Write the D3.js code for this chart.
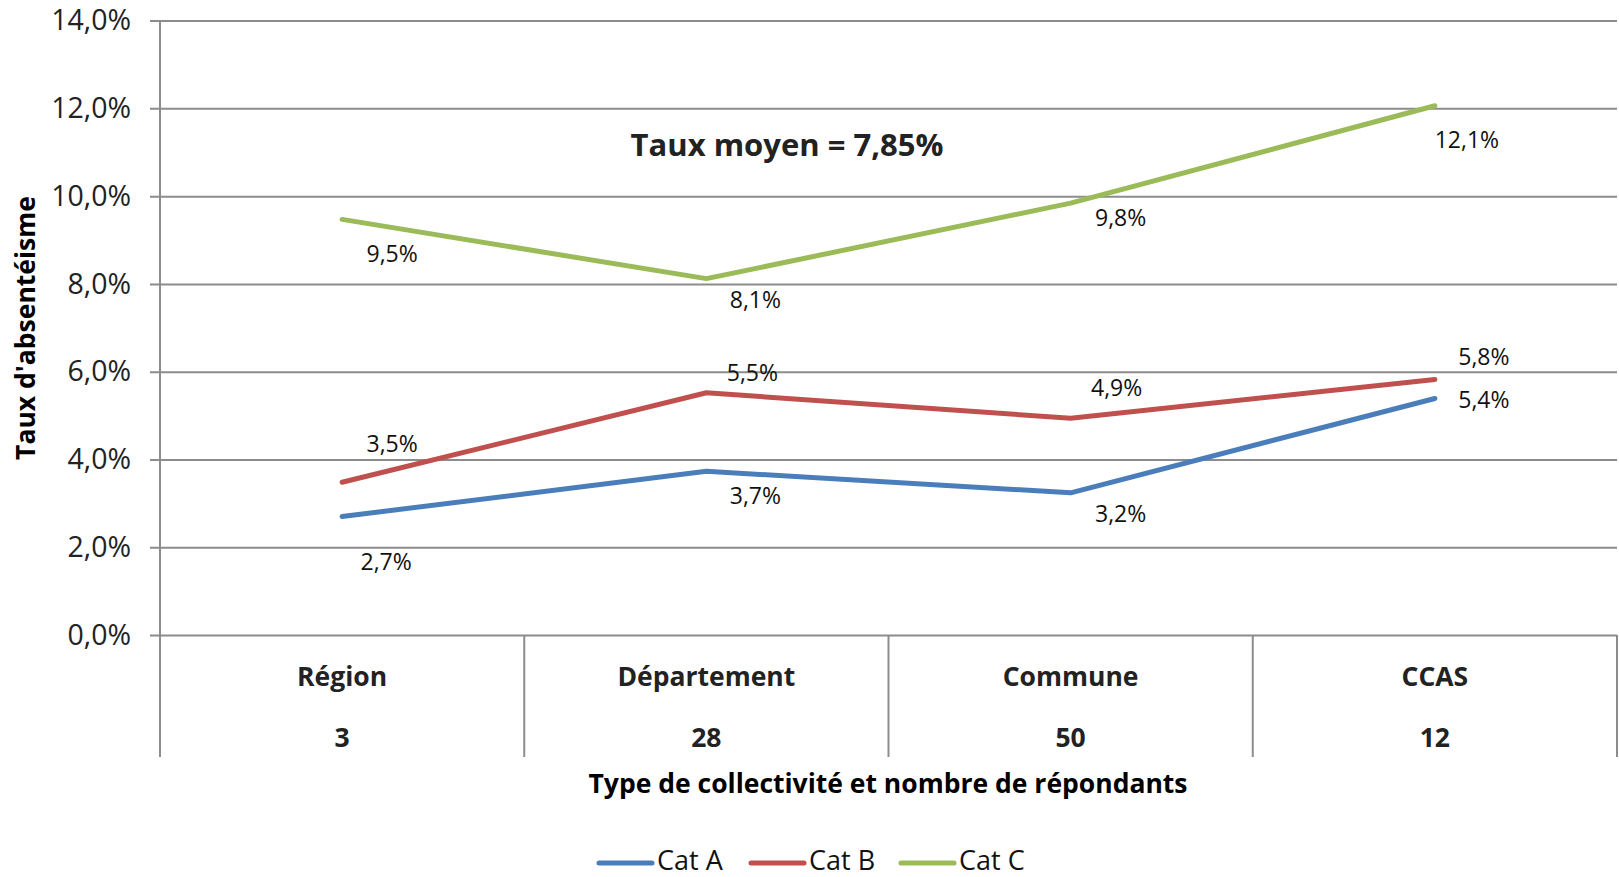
<!DOCTYPE html>
<html>
<head>
<meta charset="utf-8">
<script src="https://cdn.jsdelivr.net/npm/d3@7"></script>
<style>
  body { margin: 0; background: #fff; }
  text { font-family: "Open Sans", sans-serif; }
</style>
</head>
<body>
<svg id="chart" width="1619" height="877"></svg>
<script>
const width = 1619, height = 877;

// --- DATA ---
const categories = ["Région", "Département", "Commune", "CCAS"];
const respondents = ["3", "28", "50", "12"];
const seriesNames = ["Cat A", "Cat B", "Cat C"];
const catA = [2.70, 3.73, 3.24, 5.39];
const catB = [3.48, 5.52, 4.94, 5.82];
const catC = [9.47, 8.12, 9.84, 12.06];
const yTicks = [0, 2, 4, 6, 8, 10, 12, 14];
const colors = ["#4a7ebb", "#c0504d", "#9bbb59"];

// label nudges (px) relative to each point, as placed in the original
const labelNudge = [
  [[44, 47], [49, 27], [50, 23], [49, 3]],
  [[50, -36], [46, -18], [46, -28], [49, -21]],
  [[50, 36], [49, 23], [50, 17], [32, 36]]
];

const series = [catA, catB, catC];
const fmt = v => v.toFixed(1).replace(".", ",") + "%";

const plotLeft = 160, plotRight = 1617, plotTop = 20.6, plotBottom = 635, axisBottom = 757;

const svg = d3.select("#chart");

const x = d3.scaleBand().domain(categories).range([plotLeft, plotRight]);
const y = d3.scaleLinear().domain([0, 14]).range([plotBottom, plotTop]);
const cx = c => x(c) + x.bandwidth() / 2;

// --- GRID + Y AXIS ---
const yAxis = svg.append("g")
  .attr("transform", `translate(${plotLeft},0)`)
  .call(d3.axisLeft(y)
    .tickValues(yTicks)
    .tickSize(-(plotRight - plotLeft))
    .tickPadding(29)
    .tickFormat(d => d.toFixed(1).replace(".", ",") + "%"));
yAxis.select(".domain").remove();
yAxis.selectAll(".tick line")
  .attr("x1", -10)
  .attr("stroke", "#8c8c8c")
  .attr("stroke-width", 2);
yAxis.selectAll(".tick text")
  .attr("font-size", 28.5)
  .attr("fill", "#222");

// vertical axis line + category separators
svg.append("line")
  .attr("x1", plotLeft).attr("x2", plotLeft)
  .attr("y1", plotTop).attr("y2", axisBottom)
  .attr("stroke", "#8c8c8c").attr("stroke-width", 2);

svg.selectAll(".sep")
  .data(categories)
  .enter()
  .append("line")
  .attr("class", "sep")
  .attr("x1", d => x(d) + x.bandwidth())
  .attr("x2", d => x(d) + x.bandwidth())
  .attr("y1", plotBottom)
  .attr("y2", axisBottom)
  .attr("stroke", "#8c8c8c")
  .attr("stroke-width", 2);

// category labels (two levels)
svg.selectAll(".cat")
  .data(categories)
  .enter()
  .append("text")
  .attr("x", d => cx(d))
  .attr("y", 686)
  .attr("text-anchor", "middle")
  .attr("font-size", 26.5)
  .attr("font-weight", "bold")
  .attr("fill", "#222")
  .text(d => d);

svg.selectAll(".resp")
  .data(categories)
  .enter()
  .append("text")
  .attr("x", d => cx(d))
  .attr("y", 747)
  .attr("text-anchor", "middle")
  .attr("font-size", 26.5)
  .attr("font-weight", "bold")
  .attr("fill", "#222")
  .text((d, i) => respondents[i]);

// --- LINES ---
const line = d3.line()
  .x((d, i) => cx(categories[i]))
  .y(d => y(d));

svg.selectAll(".series")
  .data(series)
  .enter()
  .append("path")
  .attr("d", line)
  .attr("fill", "none")
  .attr("stroke", (d, i) => colors[i])
  .attr("stroke-width", 5)
  .attr("stroke-linecap", "round")
  .attr("stroke-linejoin", "round");

// --- DATA LABELS ---
series.forEach((s, si) => {
  svg.selectAll(null)
    .data(s)
    .enter()
    .append("text")
    .attr("x", (d, i) => cx(categories[i]) + labelNudge[si][i][0])
    .attr("y", (d, i) => y(d) + labelNudge[si][i][1])
    .attr("text-anchor", "middle")
    .attr("dominant-baseline", "middle")
    .attr("font-size", 23)
    .attr("fill", "#111")
    .text(d => fmt(d));
});

// --- TITLES ---
svg.append("text")
  .attr("x", 787).attr("y", 148)
  .attr("text-anchor", "middle")
  .attr("dominant-baseline", "middle")
  .attr("font-size", 31)
  .attr("font-weight", "bold")
  .attr("fill", "#222")
  .text("Taux moyen = 7,85%");

svg.append("text")
  .attr("x", 888).attr("y", 793)
  .attr("text-anchor", "middle")
  .attr("font-size", 26.5)
  .attr("font-weight", "bold")
  .attr("fill", "#000")
  .text("Type de collectivité et nombre de répondants");

svg.append("text")
  .attr("transform", "translate(35,328) rotate(-90)")
  .attr("text-anchor", "middle")
  .attr("font-size", 26.5)
  .attr("font-weight", "bold")
  .attr("fill", "#000")
  .text("Taux d'absentéisme");

// --- LEGEND ---
const legendX = [599, 751, 901];
const legend = svg.selectAll(".legend")
  .data(seriesNames)
  .enter()
  .append("g")
  .attr("transform", (d, i) => `translate(${legendX[i]},863)`);

legend.append("line")
  .attr("x1", 0).attr("x2", 53)
  .attr("stroke", (d, i) => colors[i])
  .attr("stroke-width", 5)
  .attr("stroke-linecap", "round");

legend.append("text")
  .attr("x", 58)
  .attr("dominant-baseline", "middle")
  .attr("font-size", 27)
  .attr("fill", "#111")
  .text(d => d);
</script>
</body>
</html>
